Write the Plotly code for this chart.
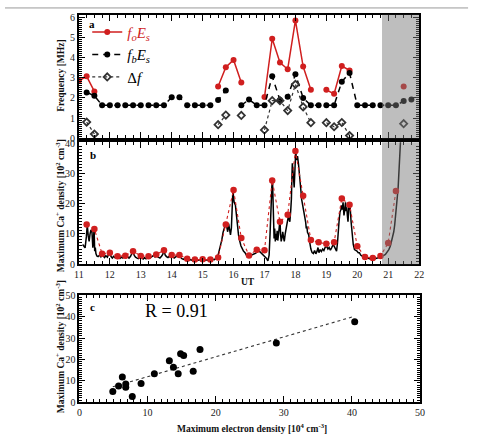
import plotly.graph_objects as go

# ---------------- Panel a: sporadic-E frequencies (15-min cadence) ----------------
ut_a = [11.0, 11.25, 11.5, 11.75, 12.0, 12.25, 12.5, 12.75, 13.0, 13.25, 13.5, 13.75,
        14.0, 14.25, 14.5, 14.75, 15.0, 15.25, 15.5, 15.75, 16.0, 16.25, 16.5, 16.75,
        17.0, 17.25, 17.5, 17.75, 18.0, 18.25, 18.5, 18.75, 19.0, 19.25, 19.5, 19.75,
        20.0, 20.25, 20.5, 20.75, 21.0, 21.25, 21.5, 21.75]
foEs = [2.85, 3.07, 2.32, None, None, None, None, None, None, None, None, None,
        None, None, None, None, None, None, 2.56, 3.52, 3.88, 2.76, None, None,
        2.04, 4.93, 3.75, 3.42, 5.84, 3.55, 2.40, None, 2.40, 2.20, 3.58, 3.36,
        None, None, None, None, None, None, 2.56, None]
fbEs = [None, 2.27, 2.11, 1.63, 1.63, 1.63, 1.63, 1.63, 1.63, 1.63, 1.63, 1.63,
        2.03, 2.03, 1.63, 1.63, 1.63, 1.63, 1.89, 2.37, None, 1.63, 1.92, 1.63,
        1.63, 3.07, 1.89, 2.05, 3.17, 2.00, 1.63, 1.63, 1.63, 1.63, 2.80, 3.23,
        1.63, 1.63, 1.63, 1.63, 1.63, 1.63, 1.84, 1.92]
delta_f = [None, 0.80, 0.21, None, None, None, None, None, None, None, None, None,
           None, None, None, None, None, None, 0.67, 1.15, None, 1.13, None, None,
           0.41, 1.86, 1.86, 1.37, 2.67, 1.55, 0.77, None, 0.77, 0.57, 0.78, 0.13,
           None, None, None, None, None, None, 0.72, None]

# ---------------- Panel b: Ca+ density ----------------
ut_b_dots = [11.25, 11.5, 11.75, 12.0, 12.25, 12.5, 12.75, 13.0, 13.25, 13.5, 13.75,
             14.0, 14.25, 14.5, 14.75, 15.0, 15.25, 15.5, 15.75, 16.0, 16.25, 16.5,
             16.75, 17.0, 17.25, 17.5, 17.75, 18.0, 18.25, 18.5, 18.75, 19.0, 19.25,
             19.5, 19.75, 20.0, 20.25, 20.5, 20.75, 21.0, 21.25]
ca_dots = [13.1, 11.6, 3.4, 3.8, 2.6, 2.8, 4.3, 2.7, 2.6, 3.2, 4.6,
           3.0, 3.0, 1.8, 1.5, 1.6, 1.5, 2.2, 13.1, 24.5, 8.6, 2.9,
           4.8, 4.6, 27.6, 14.0, 16.3, 37.4, 22.6, 8.0, 7.2, 6.7, 7.2,
           21.7, 19.6, 5.9, 2.4, 2.0, 2.7, 7.0, 24.2]

ut_fine = [11.12, 11.16, 11.20, 11.24, 11.27, 11.30, 11.33, 11.36, 11.39, 11.42, 11.45, 11.47,
           11.49, 11.51, 11.53, 11.55, 11.58,
           11.62, 11.67, 11.71, 11.75, 11.79, 11.83, 11.87, 11.92, 11.96, 12.0, 12.04, 12.08,
           12.12, 12.17, 12.21, 12.25, 12.29, 12.33, 12.38, 12.42, 12.46, 12.5, 12.54, 12.58,
           12.62, 12.67, 12.71, 12.75, 12.79, 12.83, 12.88, 12.92, 12.96, 13.0, 13.04, 13.08,
           13.12, 13.17, 13.21, 13.25, 13.29, 13.33, 13.38, 13.42, 13.46, 13.5, 13.54, 13.58,
           13.62, 13.67, 13.71, 13.75, 13.79, 13.83, 13.88, 13.92, 13.96, 14.0, 14.04, 14.08,
           14.12, 14.17, 14.21, 14.25, 14.29, 14.33, 14.38, 14.42, 14.46, 14.5, 14.54, 14.58,
           14.62, 14.67, 14.71, 14.75, 14.79, 14.83, 14.88, 14.92, 14.96, 15.0, 15.04, 15.08,
           15.12, 15.17, 15.21, 15.25, 15.29, 15.33, 15.38, 15.42, 15.46,
           15.5, 15.54, 15.58, 15.62, 15.66, 15.69, 15.72, 15.76, 15.79, 15.81, 15.84, 15.87,
           15.90, 15.93, 15.96, 15.98, 16.00, 16.02, 16.06, 16.09, 16.11, 16.14, 16.16, 16.19,
           16.21, 16.24, 16.27, 16.32, 16.37, 16.43, 16.48, 16.53, 16.58, 16.64, 16.69, 16.74,
           16.79, 16.85, 16.9, 16.96, 17.01, 17.06, 17.11,
           17.15, 17.18, 17.21, 17.24, 17.26, 17.28, 17.29, 17.31, 17.33, 17.35, 17.37, 17.39,
           17.41, 17.43, 17.45, 17.47, 17.50, 17.52, 17.54, 17.57, 17.59, 17.62, 17.64, 17.67,
           17.69, 17.73, 17.77, 17.80, 17.82, 17.85, 17.87, 17.89, 17.90, 17.92, 17.94, 17.96,
           17.98, 18.00, 18.01, 18.03, 18.04, 18.06, 18.07, 18.10, 18.12, 18.14, 18.16, 18.18,
           18.20, 18.23, 18.25, 18.28, 18.31, 18.33, 18.35, 18.37, 18.39, 18.41, 18.43, 18.45,
           18.47, 18.50, 18.54, 18.58, 18.62, 18.66, 18.70, 18.73, 18.76, 18.80, 18.84, 18.88,
           18.92, 18.96, 19.01, 19.05, 19.09, 19.13, 19.17, 19.22, 19.26, 19.30, 19.33,
           19.36, 19.38, 19.41, 19.44, 19.47, 19.49, 19.52, 19.54, 19.57, 19.60, 19.62, 19.64,
           19.66, 19.68, 19.70, 19.72, 19.73, 19.75, 19.77, 19.80, 19.83, 19.87, 19.91, 19.95,
           19.99, 20.03, 20.07, 20.11, 20.14, 20.19, 20.23, 20.28, 20.33, 20.40, 20.49, 20.57,
           20.65, 20.73, 20.81, 20.86, 20.91, 20.97, 21.02, 21.07, 21.11, 21.15, 21.18, 21.21,
           21.23, 21.26, 21.29, 21.32, 21.34, 21.37, 21.39, 21.42]
ca_fine = [6.5, 5.8, 5.4, 9.0, 12.9, 9.5, 7.5, 10.0, 11.3, 11.0, 5.4, 8.0,
           11.8, 4.3, 5.5, 3.5, 2.7,
           2.5, 3.0, 2.4, 3.2, 2.6, 2.2, 2.8, 2.3, 3.3, 3.6, 2.5, 2.0,
           2.6, 2.1, 2.4, 2.0, 2.6, 1.9, 2.3, 2.0, 2.5, 2.7, 2.2, 2.4,
           2.0, 2.6, 3.5, 4.1, 2.9, 2.3, 2.0, 1.8, 2.2, 2.5, 2.0, 1.7,
           2.1, 1.8, 2.2, 2.4, 2.0, 2.3, 2.6, 2.9, 2.4, 3.0, 2.5, 2.2,
           2.0, 2.6, 3.2, 4.6, 3.0, 2.5, 2.2, 2.6, 2.3, 2.8, 2.4, 2.0,
           2.3, 2.7, 3.0, 2.6, 2.1, 1.8, 1.6, 1.9, 1.5, 1.6, 1.4, 1.3,
           1.5, 1.2, 1.4, 1.3, 1.2, 1.4, 1.3, 1.5, 1.2, 1.4, 1.3, 1.2,
           1.4, 1.3, 1.5, 1.3, 1.4, 1.6, 1.5, 1.8, 2.2,
           3.0, 4.5, 6.5, 8.0, 10.5, 11.8, 12.5, 13.4, 12.0, 10.7, 13.4, 11.0,
           9.7, 12.0, 18.0, 24.7, 22.0, 20.4, 19.5, 16.0, 14.0, 11.5, 9.7, 8.0,
           6.5, 6.0, 5.4, 4.3, 3.8, 2.7, 2.4, 2.5, 3.0, 3.2, 3.5, 3.8,
           4.3, 4.1, 3.6, 3.0, 2.7, 2.0, 1.1,
           3.0, 10.0, 20.0, 26.0, 27.6, 18.0, 10.7, 8.5, 11.8, 7.5, 10.0, 8.0,
           11.0, 7.8, 9.5, 11.0, 14.5, 10.0, 7.5, 9.0, 10.7, 8.5, 7.5, 10.0,
           11.8, 13.5, 15.6, 14.5, 14.0, 18.0, 21.5, 30.0, 33.3, 31.0, 29.0, 25.3,
           30.0, 36.5, 37.6, 35.0, 34.4, 35.5, 35.5, 33.0, 31.2, 29.0, 26.9, 24.0,
           21.5, 20.0, 18.8, 17.5, 16.1, 14.0, 11.8, 12.5, 10.5, 10.0, 9.7, 8.0,
           6.5, 5.0, 3.8, 3.5, 4.5, 3.4, 4.3, 5.5, 3.8, 4.8, 4.2, 5.0,
           4.5, 5.5, 5.9, 5.0, 5.5, 4.6, 5.4, 6.5, 5.8, 5.0, 4.3,
           7.0, 10.7, 14.0, 17.2, 18.0, 19.4, 18.0, 20.4, 16.1, 18.5, 20.4, 17.5,
           18.8, 16.0, 14.0, 17.5, 19.4, 18.0, 18.8, 14.0, 10.7, 6.5, 4.8, 4.6,
           4.3, 3.8, 3.8, 3.0, 2.7, 2.4, 2.2, 2.0, 2.0, 1.8, 1.7, 1.8,
           2.0, 2.3, 2.5, 2.9, 3.2, 4.0, 4.8, 6.0, 7.5, 9.0, 10.7, 13.0,
           15.0, 17.5, 20.4, 25.0, 29.0, 34.0, 39.8, 45.0]

# ---------------- Panel c: scatter ----------------
ne_max = [4.9, 5.75, 6.3, 6.8, 6.8, 7.76, 9.05, 11.0, 13.2, 13.8, 14.5, 14.85, 15.3,
          16.7, 17.7, 28.9, 40.4]
ca_max = [5.0, 7.6, 11.8, 8.5, 7.0, 2.7, 8.8, 13.3, 19.4, 16.4, 13.3, 22.7, 21.8,
          14.5, 24.7, 27.7, 37.6]
fit_x = [4.9, 40.4]
fit_y = [7.2, 40.2]

shade_start, shade_end = 20.8, 22.0

RED = "#d01f1f"
SERIF = "Liberation Serif"
W, H = 477, 434

def px_x(p):
    return p / W

def px_y(p):
    return 1 - p / H

fig = go.Figure()

# Panel a traces
fig.add_trace(go.Scatter(x=ut_a, y=foEs, mode="lines+markers", xaxis="x", yaxis="y",
                         line=dict(color=RED, width=1.5), marker=dict(color=RED, size=6),
                         connectgaps=False,
                         name='<span style="color:#d01f1f"><i>f</i><sub><i>o</i></sub><i>E</i><sub><i>s</i></sub></span>'))
fig.add_trace(go.Scatter(x=ut_a, y=fbEs, mode="lines+markers", xaxis="x", yaxis="y",
                         line=dict(color="black", width=1.5, dash="6px,5px"),
                         marker=dict(color="black", size=6), connectgaps=False,
                         name="<i>f</i><sub><i>b</i></sub><i>E</i><sub><i>s</i></sub>"))
fig.add_trace(go.Scatter(x=ut_a, y=delta_f, mode="lines+markers", xaxis="x", yaxis="y",
                         line=dict(color="#333333", width=1.2, dash="dot"),
                         marker=dict(symbol="diamond-open", color="#333333", size=5.5,
                                     line=dict(width=1.8, color="#333333")),
                         connectgaps=False, name="Δ<i>f</i>"))

# Panel b traces
fig.add_trace(go.Scatter(x=ut_fine, y=ca_fine, mode="lines", xaxis="x2", yaxis="y2",
                         line=dict(color="black", width=1.5), showlegend=False))
fig.add_trace(go.Scatter(x=ut_b_dots, y=ca_dots, mode="lines+markers", xaxis="x2", yaxis="y2",
                         line=dict(color=RED, width=1.1, dash="dot"),
                         marker=dict(color=RED, size=6.5), showlegend=False))

# Panel c traces
fig.add_trace(go.Scatter(x=fit_x, y=fit_y, mode="lines", xaxis="x3", yaxis="y3",
                         line=dict(color="#333333", width=1.1, dash="dot"), showlegend=False))
fig.add_trace(go.Scatter(x=ne_max, y=ca_max, mode="markers", xaxis="x3", yaxis="y3",
                         marker=dict(color="black", size=7), showlegend=False))

tickfont = dict(family=SERIF, size=10, color="#222222")

def axis(domain, rng, dtick, minor_dtick, labels=True, anchor=None):
    return dict(domain=domain, range=rng, dtick=dtick, tick0=0, showgrid=False, zeroline=False,
                showline=True, linecolor="black", linewidth=2, mirror="allticks",
                ticks="inside", ticklen=6, tickwidth=1.3, tickcolor="black",
                showticklabels=labels, tickfont=tickfont, anchor=anchor,
                minor=dict(dtick=minor_dtick, ticks="inside", ticklen=3, tickwidth=1,
                           tickcolor="black", showgrid=False))

xdom_ab = [px_x(75.5), px_x(423)]
fig.update_layout(
    width=W, height=H, margin=dict(l=0, r=0, t=0, b=0),
    paper_bgcolor="white", plot_bgcolor="white",
    xaxis=axis(xdom_ab, [11, 22], 1, 0.25, labels=False, anchor="y"),
    yaxis=axis([px_y(136), px_y(9)], [0, 6.12], 1, 0.1, anchor="x"),
    xaxis2=axis(xdom_ab, [11, 22], 1, 0.25, labels=True, anchor="y2"),
    yaxis2=axis([px_y(265.5), px_y(140)], [0, 40.3], 10, 1, anchor="x2"),
    xaxis3=axis([px_x(76), px_x(424)], [0, 50], 10, 1, labels=True, anchor="y3"),
    yaxis3=axis([px_y(407.5), px_y(297.5)], [0, 50], 10, 1, anchor="x3"),
    showlegend=True,
    legend=dict(x=px_x(84), y=px_y(10), xanchor="left", yanchor="top",
                bgcolor="rgba(0,0,0,0)", font=dict(family=SERIF, size=15, color="black"),
                tracegroupgap=0),
)

shapes = [
    dict(type="rect", xref="x", yref="y domain", x0=shade_start, x1=shade_end, y0=0, y1=1,
         fillcolor="rgba(120,120,120,0.48)", line=dict(width=0), layer="above"),
    dict(type="rect", xref="x2", yref="y2 domain", x0=shade_start, x1=shade_end, y0=0, y1=1,
         fillcolor="rgba(120,120,120,0.48)", line=dict(width=0), layer="above"),
    dict(type="line", xref="paper", yref="paper", x0=0, x1=px_x(473), y0=px_y(2), y1=px_y(2),
         line=dict(color="#999999", width=1)),
]
fig.update_layout(shapes=shapes)

bold = dict(family=SERIF, size=9.5, color="#111111")
ann = [
    dict(text="<b>a</b>", x=px_x(89), y=px_y(19), font=dict(family=SERIF, size=11, color="black")),
    dict(text="<b>b</b>", x=px_x(90), y=px_y(153), font=dict(family=SERIF, size=11, color="black")),
    dict(text="<b>c</b>", x=px_x(89), y=px_y(310), font=dict(family=SERIF, size=11, color="black")),
    dict(text="R = 0.91", x=px_x(175), y=px_y(314), font=dict(family=SERIF, size=18, color="black")),
    dict(text="<b>UT</b>", x=px_x(248), y=px_y(284), font=bold),
    dict(text="<b>Maximum electron density [10<sup>4</sup> cm<sup>-3</sup>]</b>",
         x=px_x(252), y=px_y(433.5), font=bold),
    dict(text="<b>Frequency [MHz]</b>", x=px_x(57), y=px_y(72), textangle=-90, font=bold),
    dict(text="<b>Maximum Ca<sup>+</sup> density [10<sup>2</sup> cm<sup>-3</sup>]</b>",
         x=px_x(57), y=px_y(205), textangle=-90, font=bold),
    dict(text="<b>Maximum Ca<sup>+</sup> density [10<sup>2</sup> cm<sup>-3</sup>]</b>",
         x=px_x(57), y=px_y(350), textangle=-90, font=bold),
]
for a in ann:
    a.update(xref="paper", yref="paper", showarrow=False, xanchor="center", yanchor="middle")
fig.update_layout(annotations=ann)

fig.write_html("out.html")
